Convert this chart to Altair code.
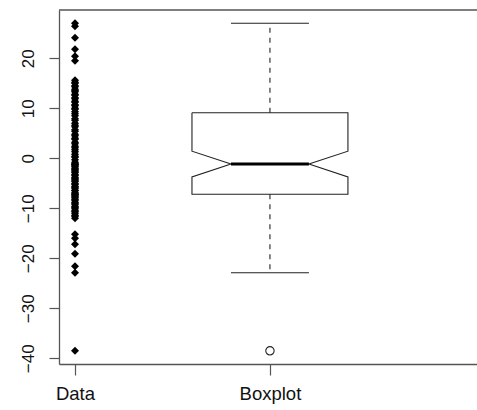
import altair as alt
import numpy as np
import pandas as pd

# Observations shown as a strip on the left and summarised by a notched boxplot
values = [
    -38.5,
    -22.9, -21.6, -19.1, -17.2, -16.0, -15.2,
    -12.0, -11.6, -11.4, -11.0, -10.7, -10.5, -10.1, -9.8, -9.7, -9.3,
    -9.0, -8.8, -8.4, -8.2, -7.9, -7.7, -7.4, -7.3, -7.1,
    -6.9, -6.5, -6.4, -6.0, -5.8, -5.6, -5.2, -5.1, -4.7, -4.5, -4.2,
    -4.0, -3.8, -3.4, -3.3, -2.9, -2.7, -2.4, -2.2, -2.0, -1.7, -1.5, -1.3,
    -1.2, -1.1,
    -0.8, -0.3, 0.2, 0.4, 0.8, 1.3, 1.7, 2.1, 2.4, 2.9, 3.2, 3.8, 4.0, 4.5,
    4.8, 5.4, 5.7, 6.3, 6.6, 7.0, 7.6, 7.9, 8.5, 8.9, 9.3,
    9.8, 10.0, 10.5, 10.7, 11.2, 11.4, 11.9, 12.1, 12.6, 12.8, 13.3, 13.5,
    13.8, 14.3, 14.5, 15.0, 15.2, 15.6,
    19.5, 20.4, 21.8, 24.1, 26.4, 27.0,
]
group_names = ["Data", "Boxplot"]
y_ticks = [-40, -30, -20, -10, 0, 10, 20]

FONT = "Liberation Sans"
FRAME = "#555555"
INK = "#222222"

x_data, x_box = 1, 2
half_box = 0.4          # boxwex 0.8
half_cap = 0.2          # staple / notch inset


def fivenum(v):
    s = np.sort(np.asarray(v, dtype=float))
    n = len(s)
    n4 = np.floor((n + 3) / 2) / 2
    d = np.array([1, n4, (n + 1) / 2, n + 1 - n4, n])
    return 0.5 * (s[np.floor(d).astype(int) - 1] + s[np.ceil(d).astype(int) - 1])


arr = np.asarray(values, dtype=float)
_, q1, med, q3, _ = fivenum(arr)
iqr = q3 - q1
lo_fence, hi_fence = q1 - 1.5 * iqr, q3 + 1.5 * iqr
inside = arr[(arr >= lo_fence) & (arr <= hi_fence)]
w_lo, w_hi = inside.min(), inside.max()
outliers = arr[(arr < lo_fence) | (arr > hi_fence)]
notch = 1.58 * iqr / np.sqrt(len(arr))
n_lo, n_hi = med - notch, med + notch

y_dom = [-41.14, 29.66]
x_dom = [0.918, 3.062]

x_scale = alt.Scale(domain=x_dom, nice=False, zero=False)
y_scale = alt.Scale(domain=y_dom, nice=False, zero=False)

points_df = pd.DataFrame({"x": x_data, "v": arr})

# notched box outline, traced in order
cx = x_box
outline = [
    (cx - half_box, q3), (cx + half_box, q3), (cx + half_box, n_hi),
    (cx + half_cap, med), (cx + half_box, n_lo), (cx + half_box, q1),
    (cx - half_box, q1), (cx - half_box, n_lo), (cx - half_cap, med),
    (cx - half_box, n_hi), (cx - half_box, q3),
]
outline_df = pd.DataFrame(
    {"i": range(len(outline)), "x": [p[0] for p in outline], "v": [p[1] for p in outline]}
)

whisker_df = pd.DataFrame({"x": [cx, cx], "v": [q3, q1], "v2": [w_hi, w_lo]})
cap_df = pd.DataFrame({"x": [cx - half_cap] * 2, "x2": [cx + half_cap] * 2, "v": [w_hi, w_lo]})
median_df = pd.DataFrame({"x": [cx - half_cap], "x2": [cx + half_cap], "v": [med]})
out_df = pd.DataFrame({"x": x_box, "v": outliers})
frame_df = pd.DataFrame({"x": [x_dom[0]], "x2": [x_dom[1]], "v": [y_dom[1]]})

label_expr = "datum.value == 1 ? '{}' : '{}'".format(*group_names)

x_axis = alt.Axis(
    values=[x_data, x_box], labelExpr=label_expr, title=None, grid=False,
    tickSize=11, tickColor=FRAME, tickWidth=1.2, domainColor=FRAME, domainWidth=1.3,
    labelFont=FONT, labelFontSize=18.5, labelColor="#111111", labelPadding=9,
)
y_axis = alt.Axis(
    values=y_ticks, title=None, grid=False, tickSize=10, tickColor=FRAME, tickWidth=1.2,
    domainColor=FRAME, domainWidth=1.3, labelFont=FONT, labelFontSize=17,
    labelColor="#111111", labelAngle=270, labelAlign="center", labelBaseline="alphabetic",
    labelPadding=16,
)

pts = alt.Chart(points_df).mark_point(
    shape="diamond", filled=True, color="black", size=64, opacity=1
).encode(
    x=alt.X("x:Q", scale=x_scale, axis=x_axis),
    y=alt.Y("v:Q", scale=y_scale, axis=y_axis),
)

box = alt.Chart(outline_df).mark_line(color=INK, strokeWidth=1.1).encode(
    x=alt.X("x:Q", scale=x_scale), y=alt.Y("v:Q", scale=y_scale), order="i:Q"
)

whiskers = alt.Chart(whisker_df).mark_rule(
    color=INK, strokeWidth=1.1, strokeDash=[5, 5]
).encode(x=alt.X("x:Q", scale=x_scale), y=alt.Y("v:Q", scale=y_scale), y2="v2:Q")

caps = alt.Chart(cap_df).mark_rule(color=INK, strokeWidth=1.1).encode(
    x=alt.X("x:Q", scale=x_scale), x2="x2:Q", y=alt.Y("v:Q", scale=y_scale)
)

median_line = alt.Chart(median_df).mark_rule(color="black", strokeWidth=3).encode(
    x=alt.X("x:Q", scale=x_scale), x2="x2:Q", y=alt.Y("v:Q", scale=y_scale)
)

outlier_pts = alt.Chart(out_df).mark_point(
    shape="circle", filled=False, color=INK, size=70, strokeWidth=1.1, opacity=1
).encode(x=alt.X("x:Q", scale=x_scale), y=alt.Y("v:Q", scale=y_scale))

top_frame = alt.Chart(frame_df).mark_rule(color=FRAME, strokeWidth=1.3).encode(
    x=alt.X("x:Q", scale=x_scale), x2="x2:Q", y=alt.Y("v:Q", scale=y_scale)
)

chart = (
    alt.layer(top_frame, box, whiskers, caps, median_line, outlier_pts, pts)
    .properties(
        width=418, height=354,
        autosize=alt.AutoSizeParams(type="none"),
        padding={"left": 59, "top": 10, "right": 0, "bottom": 46},
        background="white",
    )
    .configure_view(stroke=None)
)

chart.save("out.html", embed_options={"renderer": "svg", "actions": False})
